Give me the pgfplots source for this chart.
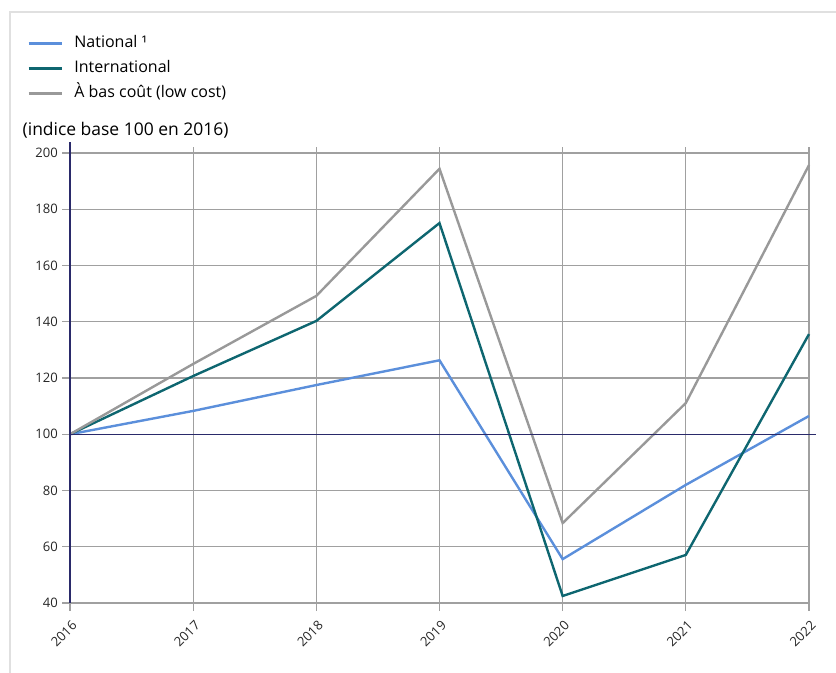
\documentclass[border=0pt]{standalone}
\usepackage{pgfplots}
\pgfplotsset{compat=1.18}
\usepackage{fontspec}
\setmainfont{Open Sans}
\definecolor{cNat}{HTML}{5B8FDB}
\definecolor{cInt}{HTML}{0E6670}
\definecolor{cLow}{HTML}{999999}
\definecolor{cGrid}{HTML}{A0A0A0}
\definecolor{cNavy}{HTML}{2A2A6A}
\begin{document}
\begin{tikzpicture}
\path[use as bounding box] (0pt,0pt) rectangle (627pt,-504.75pt);
\draw[black!12, line width=0.9pt] (7.5pt,-504.75pt) -- (7.5pt,-9pt) -- (627pt,-9pt);
\node[anchor=west, font=\fontsize{13.1pt}{15pt}\selectfont, inner sep=0pt] at (16.8pt,-97.5pt) {(indice base 100 en 2016)};
\begin{axis}[
  at={(52.5pt,-452.25pt)}, anchor=south west,
  scale only axis, width=554.25pt, height=341.7pt,
  xmin=2016, xmax=2022, ymin=40, ymax=202,
  xtick={2016,...,2022}, ytick={40,60,...,200},
  axis lines=left,
  xticklabel style={rotate=45, anchor=north east, font=\fontsize{9.8pt}{11pt}\selectfont, text=black!85, inner sep=1pt, xshift=-3pt, yshift=-4pt},
  yticklabel style={font=\fontsize{9.8pt}{11pt}\selectfont, text=black!85, inner sep=2pt, xshift=-1pt},
  /pgf/number format/assume math mode=true,
  /pgf/number format/1000 sep={},
  tick align=outside, major tick length=6pt,
  tick style={cGrid, line width=0.9pt},
  grid=major, grid style={cGrid, line width=0.9pt},
  axis line style={draw=none, -},
  clip=false,
  legend style={at={(axis description cs:-0.058,1.2484)}, anchor=north west, draw=none, fill=none,
    font=\fontsize{12pt}{14pt}\selectfont, row sep=4.75pt, column sep=7.5pt, inner sep=0pt,
    nodes={inner sep=1pt, text height=9pt, text depth=3pt}},
  legend cell align=left,
  legend image code/.code={\draw[#1, line width=2pt] (0pt,0.4pt) -- (24.75pt,0.4pt);},
]
\addplot[cNat, line width=1.8pt] coordinates {(2016,100) (2017,108.3) (2018,117.5) (2019,126.3) (2020,55.6) (2021,82) (2022,106.5)};
\addlegendentry{National ¹}
\addplot[cInt, line width=1.8pt] coordinates {(2016,100) (2017,120.7) (2018,140.3) (2019,175.1) (2020,42.5) (2021,57.1) (2022,135.6)};
\addlegendentry{International}
\addplot[cLow, line width=1.8pt] coordinates {(2016,100) (2017,125) (2018,149.2) (2019,194.4) (2020,68.4) (2021,111.1) (2022,195.7)};
\addlegendentry{À bas coût (low cost)}
\draw[cNavy, line width=0.9pt] (axis cs:2016,100) -- (axis cs:2022.06,100);
\draw[cNavy, line width=0.9pt] (axis cs:2016,40) -- (axis cs:2016,204);
\end{axis}
\end{tikzpicture}
\end{document}
